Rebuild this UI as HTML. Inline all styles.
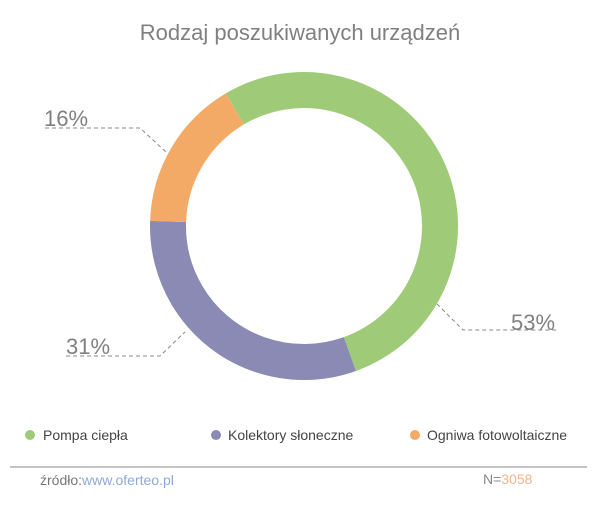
<!DOCTYPE html>
<html><head><meta charset="utf-8"><style>
body{margin:0;background:#fff;width:600px;height:500px;overflow:hidden;font-family:"Liberation Sans",sans-serif}
</style></head><body>
<svg width="600" height="500" viewBox="0 0 600 500" xmlns="http://www.w3.org/2000/svg">
<text x="300" y="40" text-anchor="middle" font-size="22" fill="#808080" font-family="Liberation Sans, sans-serif">Rodzaj poszukiwanych urządzeń</text>
<g transform="rotate(-120.6 304 226)" fill="none" stroke-width="36">
<circle cx="304" cy="226" r="136" stroke="#9fca78" stroke-dasharray="452.9 854.5" stroke-dashoffset="0"/>
<circle cx="304" cy="226" r="136" stroke="#8a8ab4" stroke-dasharray="264.9 854.5" stroke-dashoffset="-452.9"/>
<circle cx="304" cy="226" r="136" stroke="#f3aa66" stroke-dasharray="136.7 854.5" stroke-dashoffset="-717.8"/>
</g>
<g stroke="#888" stroke-width="1" stroke-dasharray="4 3" fill="none">
<polyline points="45,128 140,128 167,153"/>
<polyline points="66,356 160,356 185,332"/>
<polyline points="437,304 463,330 557,330"/>
</g>
<g font-size="22" fill="#808080">
<text x="44" y="126">16%</text>
<text x="66" y="354">31%</text>
<text x="511" y="330">53%</text>
</g>
<g font-size="14" fill="#444">
<circle cx="30" cy="435" r="5" fill="#9fca78"/><text x="43" y="440">Pompa ciepła</text>
<circle cx="216" cy="435" r="5" fill="#8a8ab4"/><text x="228" y="440">Kolektory słoneczne</text>
<circle cx="415" cy="435" r="5" fill="#f3aa66"/><text x="427" y="440">Ogniwa fotowoltaiczne</text>
</g>
<line x1="10" y1="467" x2="587" y2="467" stroke="#888" stroke-width="1"/>
<text x="40" y="485" font-size="14" fill="#777">źródło:<tspan fill="#8fa9d6">www.oferteo.pl</tspan></text>
<text x="483" y="484" font-size="14" fill="#888">N=<tspan fill="#f3b488">3058</tspan></text>
</svg>
</body></html>
